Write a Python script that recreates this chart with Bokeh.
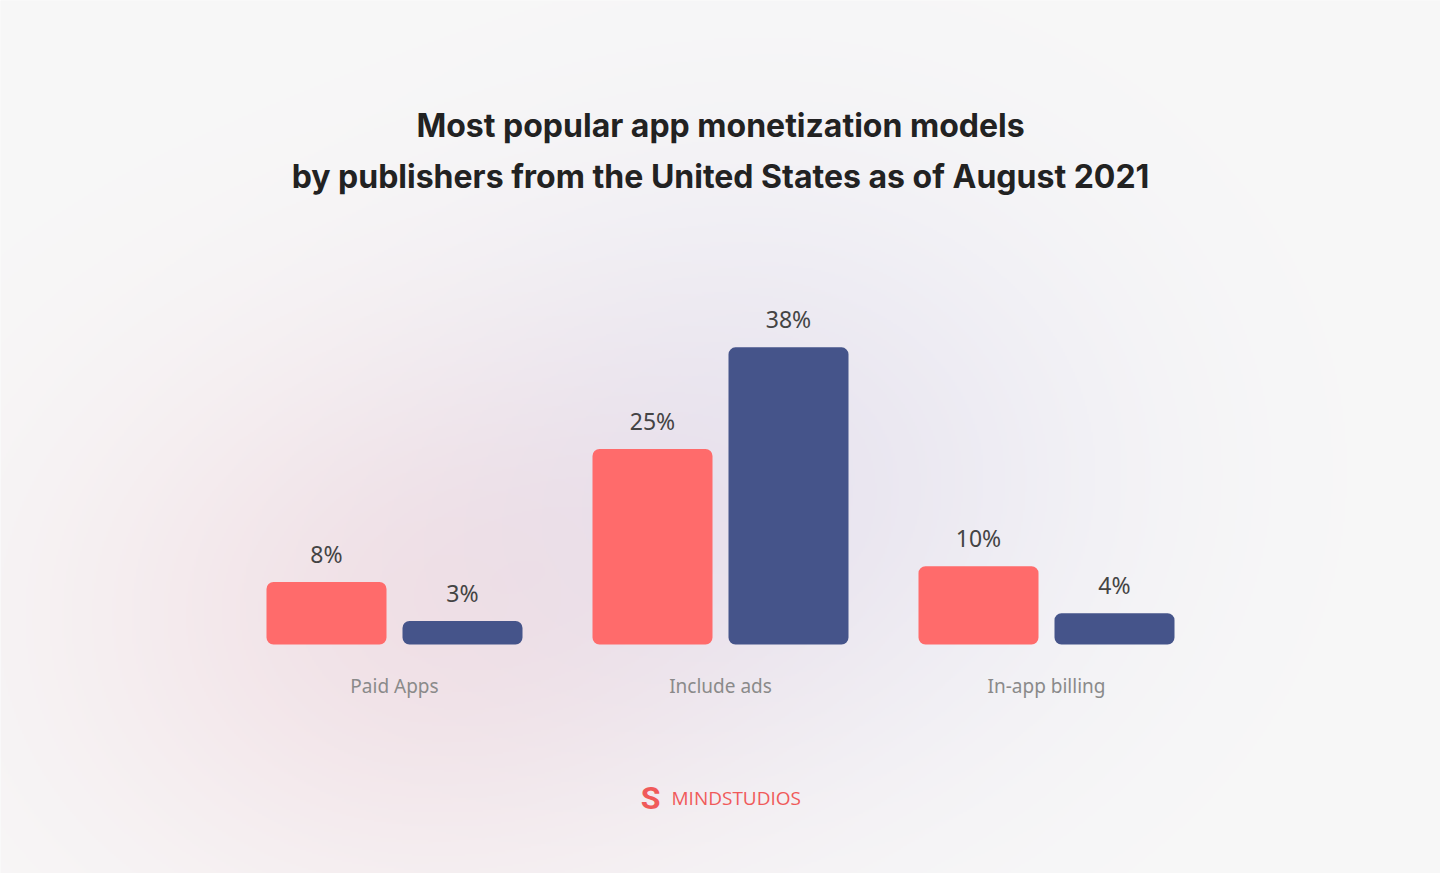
import numpy as np
from bokeh.plotting import figure
from bokeh.models import ColumnDataSource, Range1d, LabelSet, Label
from bokeh.transform import dodge
from bokeh.core.properties import value
from bokeh.embed import file_html
from bokeh.resources import INLINE

# ---- data ----
categories = ["Paid Apps", "Include ads", "In-app billing"]
series_red = [8, 25, 10]
series_navy = [3, 38, 4]
labels_red = ["8%", "25%", "10%"]
labels_navy = ["3%", "38%", "4%"]
title_lines = [
    "Most popular app monetization models",
    "by publishers from the United States as of August 2021",
]
brand = "MINDSTUDIOS"

# ---- layout constants ----
W, H = 1440, 873
PX_X = 326.0      # pixels per category
PX_Y = 7.82       # pixels per percent
BASE_PX = 644     # baseline, px from top
CENTER0_PX = 394  # first group centre, px from left
OFF = 68 / PX_X
BW = 120 / PX_X

RED = "#FF6B6B"
NAVY = "#45548A"

x_start = -CENTER0_PX / PX_X
x_end = (W - CENTER0_PX) / PX_X
y_start = -(H - BASE_PX) / PX_Y
y_end = BASE_PX / PX_Y

# ---- soft background glow ----
gw, gh = 720, 437
xs = (np.arange(gw) + 0.5) * W / gw
ys = (np.arange(gh) + 0.5) * H / gh
X, Y = np.meshgrid(xs, ys)


def glow(cx, cy, sx, sy):
    return np.exp(-0.5 * (((X - cx) / sx) ** 2 + ((Y - cy) / sy) ** 2))


wp = glow(400, 620, 240, 200)
wl = glow(780, 470, 240, 210)
base = np.array([248, 248, 248.0])
dp = np.array([5, 20, 16.0])
dl = np.array([14, 16, 6.0])
rgb = base - wp[..., None] * dp - wl[..., None] * dl
rgb = np.clip(rgb, 0, 255).astype(np.uint8)
img = np.empty((gh, gw), dtype=np.uint32)
view = img.view(np.uint8).reshape(gh, gw, 4)
view[..., :3] = rgb
view[..., 3] = 255
img = img[::-1]

p = figure(
    width=W, height=H,
    x_range=Range1d(x_start, x_end), y_range=Range1d(y_start, y_end),
    output_backend="svg", toolbar_location=None,
    x_axis_location=None, y_axis_location=None,
    min_border=0,
)
p.outline_line_color = None
p.background_fill_color = "#f8f8f8"
p.border_fill_color = "#f8f8f8"
p.grid.visible = False

p.image_rgba(image=[img], x=x_start, y=y_start, dw=x_end - x_start, dh=y_end - y_start)

src = ColumnDataSource(dict(
    x=list(range(len(categories))),
    cat=categories,
    red=series_red, navy=series_navy,
    lred=labels_red, lnavy=labels_navy,
    zero=[0] * len(categories),
))

p.vbar(x=dodge("x", -OFF), top="red", bottom=0, width=BW, source=src,
       fill_color=RED, line_color=None, border_radius=7)
p.vbar(x=dodge("x", OFF), top="navy", bottom=0, width=BW, source=src,
       fill_color=NAVY, line_color=None, border_radius=7)

common = dict(text_align="center", text_baseline="middle",
              text_font=value("Noto Sans"))
p.add_layout(LabelSet(x=dodge("x", -OFF), y="red", text="lred", source=src,
                      y_offset=28, text_font_size="23px", text_color="#444444", **common))
p.add_layout(LabelSet(x=dodge("x", OFF), y="navy", text="lnavy", source=src,
                      y_offset=28, text_font_size="23px", text_color="#444444", **common))
p.add_layout(LabelSet(x="x", y="zero", text="cat", source=src,
                      y_offset=-41, text_font_size="19px", text_color="#8a8a8a", **common))

for txt, ypx in zip(title_lines, [125, 176]):
    p.add_layout(Label(x=W / 2, y=H - ypx, x_units="screen", y_units="screen",
                       text=txt, text_align="center", text_baseline="middle",
                       text_font="Inter", text_font_style="bold",
                       text_font_size="32px", text_color="#222222"))

p.add_layout(Label(x=650, y=H - 797, x_units="screen", y_units="screen",
                   text="S", text_align="center", text_baseline="middle",
                   text_font="Roboto", text_font_style="bold",
                   text_font_size="32px", text_color="#F05A5A"))
p.add_layout(Label(x=671, y=H - 797, x_units="screen", y_units="screen",
                   text=brand, text_align="left", text_baseline="middle",
                   text_font="Open Sans", text_font_size="19px",
                   text_color="#F05A5A"))

open("out.html", "w").write(file_html(p, INLINE))
